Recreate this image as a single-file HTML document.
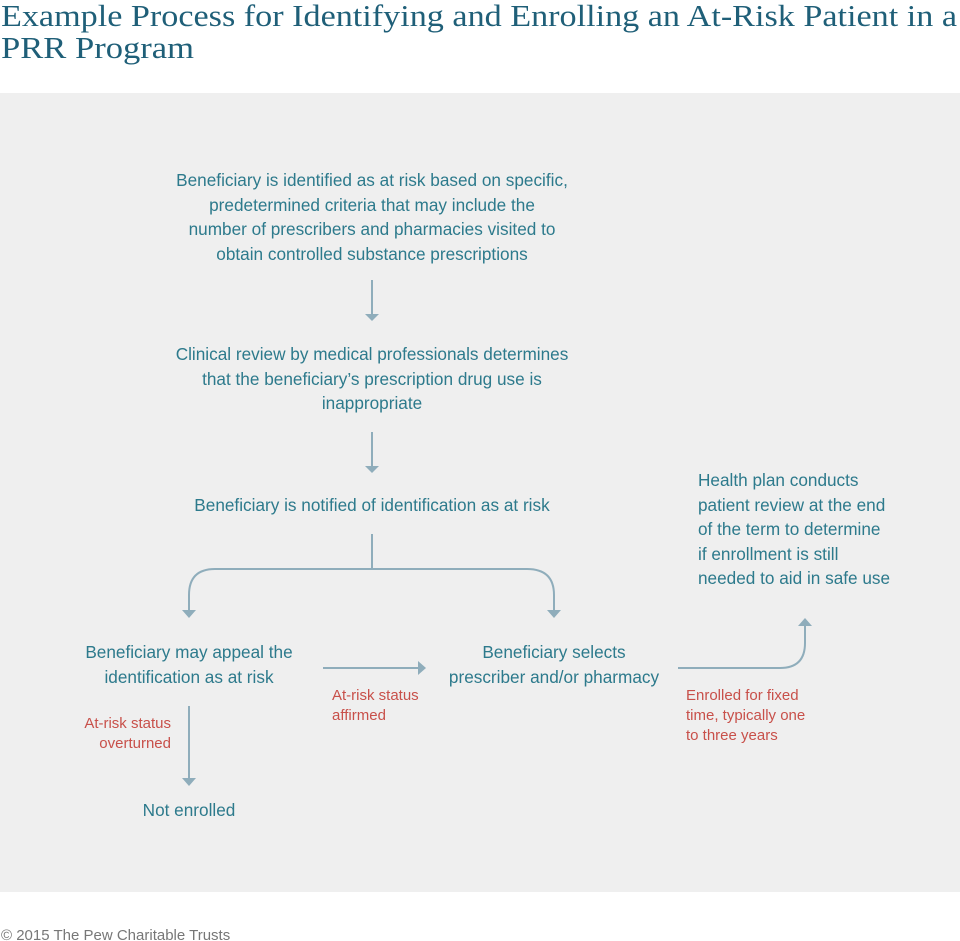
<!DOCTYPE html>
<html><head><meta charset="utf-8"><style>
body{margin:0;width:960px;height:941px;background:#fff;overflow:hidden}
</style></head><body>
<svg width="960" height="941" viewBox="0 0 960 941" xmlns="http://www.w3.org/2000/svg" style="display:block">
<rect x="0" y="93" width="960" height="799" fill="#efefef"/>
<g font-family="Liberation Serif, serif" font-size="31" fill="#1f5f78">
<text x="1" y="26" textLength="956" lengthAdjust="spacingAndGlyphs">Example Process for Identifying and Enrolling an At-Risk Patient in a</text>
<text x="1" y="58" textLength="193" lengthAdjust="spacingAndGlyphs">PRR Program</text>
</g>
<g font-family="Liberation Sans, sans-serif" font-size="17.2" fill="#2d7a8c" text-anchor="middle">
<text x="372" y="186">Beneficiary is identified as at risk based on specific,</text>
<text x="372" y="211">predetermined criteria that may include the</text>
<text x="372" y="235">number of prescribers and pharmacies visited to</text>
<text x="372" y="260">obtain controlled substance prescriptions</text>
<text x="372" y="360">Clinical review by medical professionals determines</text>
<text x="372" y="385">that the beneficiary’s prescription drug use is</text>
<text x="372" y="409">inappropriate</text>
<text x="372" y="511">Beneficiary is notified of identification as at risk</text>
<text x="189" y="658">Beneficiary may appeal the</text>
<text x="189" y="683">identification as at risk</text>
<text x="554" y="658">Beneficiary selects</text>
<text x="554" y="683">prescriber and/or pharmacy</text>
<text x="189" y="816">Not enrolled</text>
</g>
<g font-family="Liberation Sans, sans-serif" font-size="17.2" fill="#2d7a8c">
<text x="698" y="486">Health plan conducts</text>
<text x="698" y="511">patient review at the end</text>
<text x="698" y="535">of the term to determine</text>
<text x="698" y="560">if enrollment is still</text>
<text x="698" y="584">needed to aid in safe use</text>
</g>
<g font-family="Liberation Sans, sans-serif" font-size="15" fill="#c8504a">
<text x="171" y="728" text-anchor="end">At-risk status</text>
<text x="171" y="748" text-anchor="end">overturned</text>
<text x="332" y="700">At-risk status</text>
<text x="332" y="720">affirmed</text>
<text x="686" y="700">Enrolled for fixed</text>
<text x="686" y="720">time, typically one</text>
<text x="686" y="740">to three years</text>
</g>
<g stroke="#8fadbb" stroke-width="2" fill="none">
<line x1="372" y1="280" x2="372" y2="314"/>
<line x1="372" y1="432" x2="372" y2="466"/>
<line x1="372" y1="534" x2="372" y2="569"/>
<path d="M189 610 V595 Q189 569 215 569 H527 Q554 569 554 595 V610"/>
<line x1="323" y1="668" x2="418" y2="668"/>
<line x1="189" y1="706" x2="189" y2="778"/>
<path d="M678 668 H780 Q805 668 805 643 V626"/>
</g>
<g fill="#8fadbb">
<polygon points="365,314 379,314 372,321"/>
<polygon points="365,466 379,466 372,473"/>
<polygon points="182,610 196,610 189,618"/>
<polygon points="547,610 561,610 554,618"/>
<polygon points="418,661 418,675 426,668"/>
<polygon points="182,778 196,778 189,786"/>
<polygon points="798,626 812,626 805,618"/>
</g>
<text x="1" y="940" font-family="Liberation Sans, sans-serif" font-size="15" fill="#777">© 2015 The Pew Charitable Trusts</text>
</svg>
</body></html>
